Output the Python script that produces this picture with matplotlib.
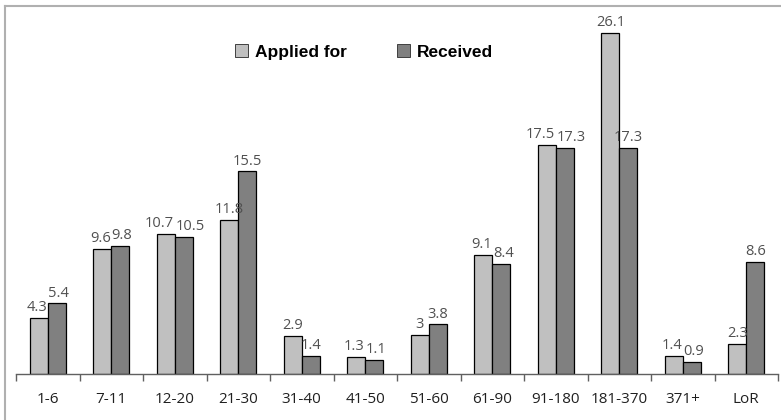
import matplotlib
matplotlib.use("Agg")
import matplotlib.pyplot as plt
import numpy as np
from matplotlib.lines import Line2D
from matplotlib.patches import Patch

categories = ["1-6", "7-11", "12-20", "21-30", "31-40", "41-50",
              "51-60", "61-90", "91-180", "181-370", "371+", "LoR"]
applied_for = [4.3, 9.6, 10.7, 11.8, 2.9, 1.3, 3.0, 9.1, 17.5, 26.1, 1.4, 2.3]
received = [5.4, 9.8, 10.5, 15.5, 1.4, 1.1, 3.8, 8.4, 17.3, 17.3, 0.9, 8.6]
applied_labels = ["4.3", "9.6", "10.7", "11.8", "2.9", "1.3", "3", "9.1",
                  "17.5", "26.1", "1.4", "2.3"]
received_labels = ["5.4", "9.8", "10.5", "15.5", "1.4", "1.1", "3.8", "8.4",
                   "17.3", "17.3", "0.9", "8.6"]

W, H = 781, 420
DPI = 100
fig = plt.figure(figsize=(W / DPI, H / DPI), dpi=DPI)
ax = fig.add_axes([16 / W, (H - 374) / H, (778 - 16) / W, (374 - 8) / H])

x = np.arange(len(categories))
bw = 0.28
light = "#c0c0c0"
dark = "#808080"
ax.bar(x - bw / 2, applied_for, bw, color=light, edgecolor="black", linewidth=0.9)
ax.bar(x + bw / 2, received, bw, color=dark, edgecolor="black", linewidth=0.9)

label_font = dict(family="Open Sans", fontsize=10.5, color="#505050",
                  ha="center", va="bottom")
pairs = []
for xi, a, r, ta, tr in zip(x, applied_for, received, applied_labels, received_labels):
    la = ax.annotate(ta, (xi - bw / 2, a), xytext=(0, 2),
                     textcoords="offset points", **label_font)
    lr = ax.annotate(tr, (xi + bw / 2, r), xytext=(0, 2),
                     textcoords="offset points", **label_font)
    pairs.append((la, lr))

ax.set_xlim(-0.5, len(categories) - 0.5)
ax.set_ylim(0, 28)

for s in ["top", "right", "left"]:
    ax.spines[s].set_visible(False)
ax.spines["bottom"].set_color("#606060")
ax.spines["bottom"].set_linewidth(1.0)
ax.set_yticks([])

ax.set_xticks(x)
ax.set_xticklabels(categories, family="Open Sans", fontsize=11, color="#202020")
ax.tick_params(axis="x", which="major", length=0, pad=13)
ax.set_xticks(np.arange(-0.5, len(categories), 1.0), minor=True)
ax.tick_params(axis="x", which="minor", length=5, width=1.0, color="#606060", direction="out")

handles = [Patch(facecolor=light, edgecolor="#404040", linewidth=0.7),
           Patch(facecolor=dark, edgecolor="#404040", linewidth=0.7)]
leg = ax.legend(handles, ["Applied for", "Received"], ncol=2, frameon=False,
                loc="center", bbox_to_anchor=(0.457, 0.88),
                handlelength=0.75, handleheight=0.75, handletextpad=0.4,
                columnspacing=2.9,
                prop=dict(family="Liberation Sans", weight="bold", size=12.5))

# push apart value labels of a pair when they collide
fig.canvas.draw()
renderer = fig.canvas.get_renderer()
for la, lr in pairs:
    ba = la.get_window_extent(renderer)
    br = lr.get_window_extent(renderer)
    vertical = min(ba.y1, br.y1) - max(ba.y0, br.y0)
    overlap = ba.x1 - br.x0 + 1
    if vertical > 0 and overlap > 0:
        shift = overlap / 2 * 72 / DPI
        la.xyann = (-shift, 2)
        lr.xyann = (shift, 2)

# outer frame edges
fig.add_artist(Line2D([5 / W, 1], [(H - 6) / H, (H - 6) / H], color="#b0b0b0",
                      linewidth=1.5, transform=fig.transFigure))
fig.add_artist(Line2D([5 / W, 5 / W], [0, (H - 6) / H], color="#b0b0b0",
                      linewidth=1.5, transform=fig.transFigure))

fig.savefig("out.png", dpi=DPI)
